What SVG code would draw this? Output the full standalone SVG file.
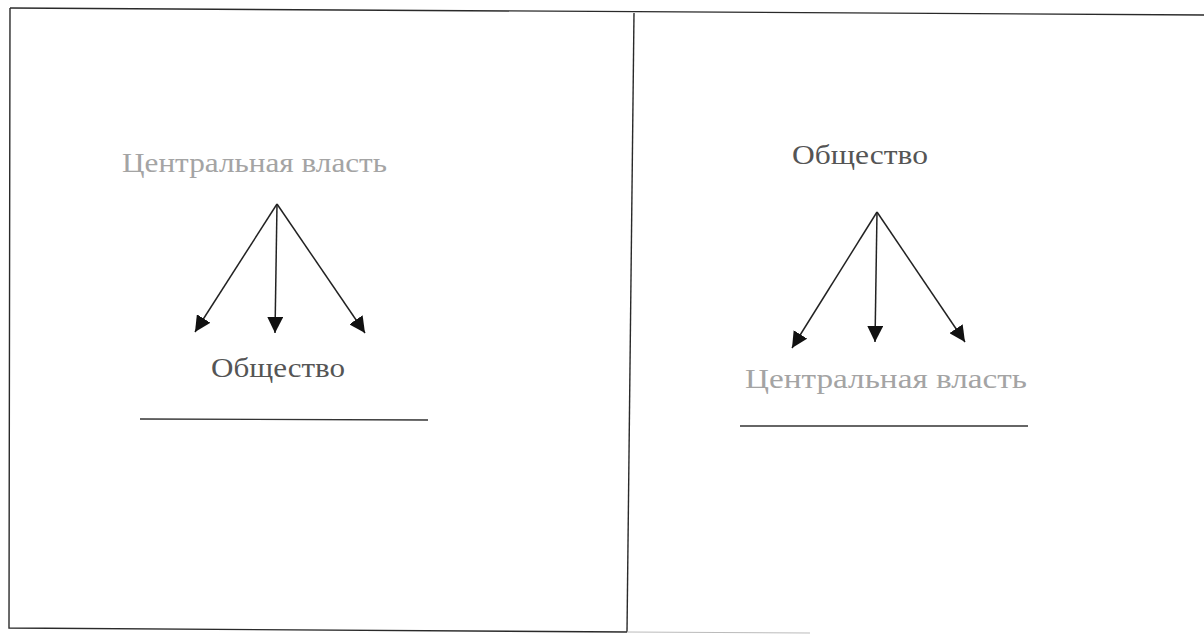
<svg xmlns="http://www.w3.org/2000/svg" width="1204" height="636" viewBox="0 0 1204 636">
<defs>
<style>
.frame{fill:none;stroke:#2a2a2a;stroke-width:1.4}
.conn{fill:none;stroke:#222;stroke-width:1.5}
.lbl{font-family:"Liberation Serif","Times New Roman",serif;font-size:27px}
.faint{fill:#a4a4a4}
.dark{fill:#555}
.rule{stroke:#333;stroke-width:1.4}
</style>
<marker id="ah" viewBox="0 0 10 10" refX="10" refY="5" markerWidth="16" markerHeight="16" markerUnits="userSpaceOnUse" orient="auto">
<path d="M0,0 L10,5 L0,10 z" fill="#111"/>
</marker>
</defs>
<rect width="1204" height="636" fill="#fff"/>
<g id="frame">
<path class="frame" d="M10,8 L1204,15"/>
<path class="frame" d="M10,8 L9,628 L627,632"/>
<path class="frame" d="M634,13 L627,632"/>
<path d="M627,632 L810,633" stroke="#bbb" stroke-width="1.2" fill="none"/>
</g>
<g id="left-top">
<text class="lbl faint" x="122" y="172" textLength="265" lengthAdjust="spacingAndGlyphs">Центральная власть</text>
</g>
<g id="left-bottom">
<text class="lbl dark" x="211" y="377" textLength="134" lengthAdjust="spacingAndGlyphs">Общество</text>
<line class="rule" x1="140" y1="419" x2="428" y2="420"/>
</g>
<g id="right-top">
<text class="lbl dark" x="792" y="164" textLength="136" lengthAdjust="spacingAndGlyphs">Общество</text>
</g>
<g id="right-bottom">
<text class="lbl faint" x="745" y="388" textLength="282" lengthAdjust="spacingAndGlyphs">Центральная власть</text>
<line class="rule" x1="740" y1="426" x2="1028" y2="426"/>
</g>
<g id="connectors">
<line class="conn" x1="277" y1="204" x2="195" y2="332" marker-end="url(#ah)"/>
<line class="conn" x1="277" y1="204" x2="275" y2="333" marker-end="url(#ah)"/>
<line class="conn" x1="277" y1="204" x2="365" y2="333" marker-end="url(#ah)"/>
<line class="conn" x1="877" y1="212" x2="792" y2="348" marker-end="url(#ah)"/>
<line class="conn" x1="877" y1="212" x2="875" y2="342" marker-end="url(#ah)"/>
<line class="conn" x1="877" y1="212" x2="965" y2="342" marker-end="url(#ah)"/>
</g>
</svg>
